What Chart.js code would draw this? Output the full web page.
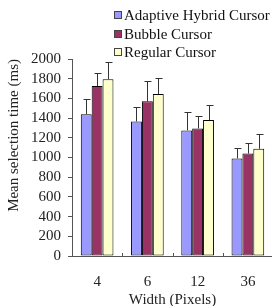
<!DOCTYPE html>
<html>
<head>
<meta charset="utf-8">
<script src="https://cdn.jsdelivr.net/npm/chart.js@4.4.0/dist/chart.umd.min.js"></script>
<style>
html, body { margin: 0; padding: 0; background: #fff; overflow: hidden; }
#wrap { position: relative; width: 275px; height: 306px; }
</style>
</head>
<body>
<div id="wrap"><canvas id="myChart"></canvas></div>
<script>
// data
var widths = ['4', '6', '12', '36'];
var seriesNames = ['Adaptive Hybrid Cursor', 'Bubble Cursor', 'Regular Cursor'];
var adaptive = [1440, 1365, 1275, 990];
var bubble = [1725, 1570, 1295, 1040];
var regular = [1795, 1645, 1380, 1088];
var adaptiveErr = [155, 145, 192, 102];
var bubbleErr = [135, 208, 131, 108];
var regularErr = [178, 165, 154, 147];
var yTicks = [0, 200, 400, 600, 800, 1000, 1200, 1400, 1600, 1800, 2000];

var fillColors = ['#9999FF', '#993366', '#FFFFCC'];
var serif = "'Liberation Serif', 'DejaVu Serif', serif";

// error bars (upper half only) + inner ticks between categories + legend
var extras = {
  id: 'extras',
  afterDatasetsDraw: function(chart) {
    var ctx = chart.ctx;
    var y = chart.scales.y;
    ctx.save();
    ctx.strokeStyle = '#333';
    ctx.lineWidth = 1;
    chart.data.datasets.forEach(function(ds, di) {
      var meta = chart.getDatasetMeta(di);
      meta.data.forEach(function(bar, i) {
        var cx = Math.round(bar.x) + 0.5;
        var top = Math.round(y.getPixelForValue(ds.data[i] + ds.errors[i])) + 0.5;
        ctx.beginPath();
        ctx.moveTo(cx, bar.y);
        ctx.lineTo(cx, top);
        ctx.moveTo(cx - 3, top);
        ctx.lineTo(cx + 4, top);
        ctx.stroke();
      });
    });
    ctx.restore();
  },
  afterDraw: function(chart) {
    var ctx = chart.ctx;
    var x = chart.scales.x;
    var bottom = chart.chartArea.bottom;
    ctx.save();
    ctx.strokeStyle = '#555';
    ctx.lineWidth = 1;
    for (var i = 1; i < widths.length; i++) {
      var xb = Math.round((x.getPixelForValue(i - 1) + x.getPixelForValue(i)) / 2) + 0.5;
      ctx.beginPath();
      ctx.moveTo(xb, bottom);
      ctx.lineTo(xb, bottom - 3);
      ctx.stroke();
    }
    // legend
    var lx = 114, ly = 15, rowH = 18.5;
    ctx.font = '15px ' + serif;
    ctx.textBaseline = 'middle';
    ctx.textAlign = 'left';
    chart.data.datasets.forEach(function(ds, di) {
      var yy = Math.round(ly + di * rowH);
      ctx.fillStyle = ds.backgroundColor;
      ctx.fillRect(lx, yy - 4, 7, 8);
      ctx.strokeStyle = '#444';
      ctx.strokeRect(lx + 0.5, yy - 3.5, 7, 7);
      ctx.fillStyle = '#111';
      ctx.fillText(ds.label, lx + 10, yy + 1);
    });
    ctx.restore();
  }
};

var ctx = document.getElementById('myChart').getContext('2d');
var myChart = new Chart(ctx, {
  type: 'bar',
  data: {
    labels: widths,
    datasets: [
      { label: seriesNames[0], data: adaptive, errors: adaptiveErr, backgroundColor: fillColors[0] },
      { label: seriesNames[1], data: bubble, errors: bubbleErr, backgroundColor: fillColors[1] },
      { label: seriesNames[2], data: regular, errors: regularErr, backgroundColor: fillColors[2] }
    ]
  },
  plugins: [extras],
  options: {
    responsive: true,
    maintainAspectRatio: false,
    animation: false,
    layout: { padding: { top: 59, left: 0, right: 2, bottom: 1 } },
    datasets: {
      bar: {
        categoryPercentage: 0.65,
        barPercentage: 1.0,
        borderColor: '#000',
        borderWidth: 1,
        borderSkipped: false
      }
    },
    plugins: {
      legend: { display: false },
      tooltip: { enabled: false }
    },
    scales: {
      x: {
        grid: { display: false, drawTicks: false },
        border: { color: '#555' },
        ticks: { color: '#222', padding: 17, font: { family: serif, size: 15 } },
        title: {
          display: true,
          text: 'Width (Pixels)',
          color: '#222',
          padding: { top: -17, bottom: -4 },
          font: { family: serif, size: 15 }
        }
      },
      y: {
        min: 0,
        max: 2000,
        afterBuildTicks: function(axis) {
          axis.ticks = yTicks.map(function(v) { return { value: v }; });
        },
        grid: { drawOnChartArea: false, drawTicks: true, tickLength: 4, color: '#555' },
        border: { color: '#555' },
        ticks: {
          color: '#222',
          padding: 7,
          autoSkip: false,
          font: { family: serif, size: 15 },
          callback: function(v) { return String(v); }
        },
        title: {
          display: true,
          text: 'Mean selection time (ms)',
          align: 'end',
          color: '#222',
          padding: { top: 5, bottom: 1 },
          font: { family: serif, size: 15 }
        }
      }
    }
  }
});
</script>
</body>
</html>
